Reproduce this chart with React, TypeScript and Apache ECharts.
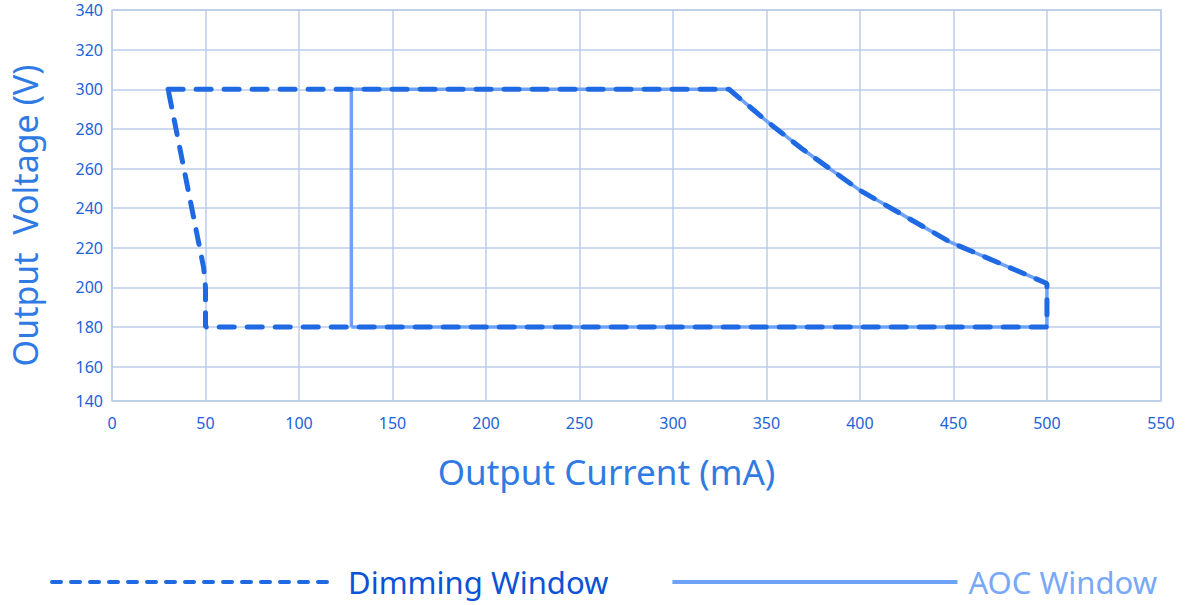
import React, { useEffect, useRef } from "react";
import * as echarts from "echarts";

// Data (Output Current mA, Output Voltage V)
const dimmingCurrent = [30, 330, 350, 369, 400, 448, 500, 500, 50, 50, 49, 30];
const dimmingVoltage = [300, 300, 284, 270, 249, 223, 202, 180, 180, 200, 210, 300];
const aocCurrent = [128, 128, 330, 350, 369, 400, 448, 500, 500, 128];
const aocVoltage = [180, 300, 300, 284, 270, 249, 223, 202, 180, 180];

const xTickLabels = [0, 50, 100, 150, 200, 250, 300, 350, 400, 450, 500, 550];
const yTickLabels = [140, 160, 180, 200, 220, 240, 260, 280, 300, 320, 340];

// axis extents as seen in the picture
const X_MIN = 0;
const X_MAX = 561;
const Y_MIN = 142.7;
const Y_MAX = 340;

const seriesNames = ["Dimming Window", "AOC Window"];

const FONT = "Noto Sans";
const DIM_COLOR = "#1f6ae2";
const AOC_COLOR = "#6ea2f6";
const GRID_COLOR = "#bccde9";
const TICK_COLOR = "#1d62d8";

export default function App() {
  const ref = useRef<HTMLDivElement>(null);
  useEffect(() => {
    if (!ref.current) return;
    const chart = echarts.init(ref.current, null, { renderer: "svg" });

    const xPos = xTickLabels.map((v, i) => (i === xTickLabels.length - 1 ? X_MAX : v));
    const yPos = yTickLabels.map((v, i) => (i === 0 ? Y_MIN : v));
    const xLabelFor = (val: number) => {
      const i = xPos.findIndex((p) => Math.abs(p - val) < 1e-6);
      return i >= 0 ? String(xTickLabels[i]) : "";
    };
    const yLabelFor = (val: number) => {
      const i = yPos.findIndex((p) => Math.abs(p - val) < 1e-6);
      return i >= 0 ? String(yTickLabels[i]) : "";
    };

    const dimData = dimmingCurrent.map((x, i) => [x, dimmingVoltage[i]]);
    const aocData = aocCurrent.map((x, i) => [x, aocVoltage[i]]);

    chart.setOption({
      animation: false,
      textStyle: { fontFamily: FONT },
      grid: {
        left: 110,
        right: 32,
        top: 10,
        bottom: 204,
        show: true,
        borderColor: GRID_COLOR,
        borderWidth: 1.5,
        containLabel: false,
      },
      xAxis: {
        type: "value",
        min: X_MIN,
        max: X_MAX,
        name: "Output Current (mA)",
        nameLocation: "middle",
        nameGap: 53,
        nameTextStyle: { color: "#2f7be3", fontSize: 35, fontFamily: FONT, padding: [0, 60, 0, 0] },
        axisLine: { show: false },
        axisTick: { show: false, customValues: xPos },
        axisLabel: {
          customValues: xPos,
          formatter: (v: number) => xLabelFor(v),
          color: TICK_COLOR,
          fontSize: 16,
          margin: 14,
          fontFamily: FONT,
        },
        splitLine: { show: true, lineStyle: { color: GRID_COLOR, width: 1.5 } },
      },
      yAxis: {
        type: "value",
        min: Y_MIN,
        max: Y_MAX,
        name: "Output  Voltage (V)",
        nameLocation: "middle",
        nameGap: 70,
        nameTextStyle: { color: "#2f7be3", fontSize: 34, fontFamily: FONT, padding: [0, 20, 0, 0] },
        axisLine: { show: false },
        axisTick: { show: false, customValues: yPos },
        axisLabel: {
          customValues: yPos,
          formatter: (v: number) => yLabelFor(v),
          color: TICK_COLOR,
          fontSize: 16,
          margin: 9,
          fontFamily: FONT,
        },
        splitLine: { show: true, lineStyle: { color: GRID_COLOR, width: 1.5 } },
      },
      legend: {
        left: 45,
        top: 556,
        itemWidth: 285,
        itemHeight: 14,
        itemGap: 62,
        data: [
          {
            name: seriesNames[0],
            textStyle: { color: "#0b53d6", fontSize: 31, lineHeight: 32, fontFamily: FONT, padding: [0, 0, 10, 6] },
            lineStyle: { width: 4, type: [9, 10], color: DIM_COLOR },
            itemStyle: { opacity: 0 },
          },
          {
            name: seriesNames[1],
            textStyle: { color: "#78a8f6", fontSize: 31, lineHeight: 32, fontFamily: FONT, padding: [0, 0, 10, 6] },
            lineStyle: { width: 4, color: AOC_COLOR },
            itemStyle: { opacity: 0 },
          },
        ],
      },
      series: [
        {
          name: seriesNames[1],
          type: "line",
          data: aocData,
          symbol: "none",
          lineStyle: { color: AOC_COLOR, width: 3.5 },
          itemStyle: { color: AOC_COLOR },
          z: 2,
        },
        {
          name: seriesNames[0],
          type: "line",
          data: dimData,
          symbol: "none",
          lineStyle: { color: DIM_COLOR, width: 5, type: [15, 13], cap: "round" },
          itemStyle: { color: DIM_COLOR },
          z: 3,
        },
      ],
    });
    return () => chart.dispose();
  }, []);
  return <div ref={ref} style={{ width: 1193, height: 605, position: "absolute", left: 0, top: 0 }} />;
}
